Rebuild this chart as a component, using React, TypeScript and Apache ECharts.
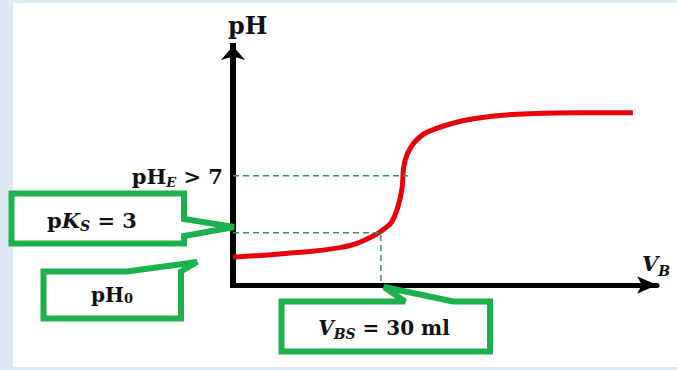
import React, { useEffect, useRef } from "react";
import * as echarts from "echarts";

// Titration curve (schematic): volume of base V_B (ml) vs pH
const vbValues = [0, 5.5, 11.6, 15.6, 18.6, 21.7, 24.1, 25.7, 27.4, 28.8, 29.8, 31.0, 32.2, 33.4, 34.3, 34.6, 35.3, 36.9, 39.5, 46.6, 53.5, 60.2, 70.3, 81.1];
const phValues = [1.61, 1.7, 1.84, 1.93, 2.02, 2.15, 2.3, 2.46, 2.68, 2.88, 3.05, 3.3, 3.63, 4.44, 5.59, 6.74, 7.49, 8.24, 8.81, 9.45, 9.74, 9.85, 9.91, 9.91];

const pKs = 3;
const vbHalf = 30;
const phEq = 6.28;
const vbEq = 35.5;
const xMax = 86;
const yMax = 13.75;

const GREEN = "#1cb14c";
const DASH = "#2f9563";
const SERIF = '"DejaVu Serif", serif';

function rich(size: number, subSize: number, drop: number) {
  const base = { fontFamily: SERIF, fontWeight: "bold", fill: "#111", fontSize: size, lineHeight: size + 4 };
  const sub = { fontFamily: SERIF, fontWeight: "bold", fill: "#111", fontSize: subSize, lineHeight: subSize + 2, padding: [drop * 2, 0, 0, 0] };
  return {
    m: { ...base },
    i: { ...base, fontStyle: "italic" },
    s: { ...sub, fontStyle: "italic" },
    n: { ...sub },
  };
}

function label(text: string, x: number, y: number, align: string, size: number, subSize: number, drop: number) {
  return {
    type: "text",
    z: 120,
    x,
    y,
    style: {
      text,
      rich: rich(size, subSize, drop),
      fontFamily: SERIF,
      fontWeight: "bold",
      fontSize: size,
      fill: "#111",
      align,
      textAlign: align,
      verticalAlign: "middle",
      textVerticalAlign: "middle",
    },
  };
}

function callout(points: number[][]) {
  return {
    type: "polygon",
    z: 110,
    shape: { points },
    style: { fill: "#fff", stroke: GREEN, lineWidth: 6, lineJoin: "miter", miterLimit: 2 },
  };
}

export default function App() {
  const ref = useRef<HTMLDivElement>(null);
  useEffect(() => {
    if (!ref.current) return;
    const chart = echarts.init(ref.current, undefined, { renderer: "svg" });
    const curve = vbValues.map((v, i) => [v, phValues[i]]);
    chart.setOption({
      animation: false,
      backgroundColor: "#ffffff",
      grid: { left: 233, right: 20, top: 46, bottom: 85 },
      xAxis: {
        type: "value",
        min: 0,
        max: xMax,
        axisLine: {
          show: true,
          symbol: ["none", "arrow"],
          symbolSize: [13, 20],
          lineStyle: { color: "#000", width: 5 },
        },
        axisTick: { show: false },
        axisLabel: { show: false },
        splitLine: { show: false },
      },
      yAxis: {
        type: "value",
        min: 0,
        max: yMax,
        axisLine: {
          show: true,
          symbol: ["none", "arrow"],
          symbolSize: [18, 14],
          lineStyle: { color: "#000", width: 6, cap: "square" },
        },
        axisTick: { show: false },
        axisLabel: { show: false },
        splitLine: { show: false },
      },
      series: [
        {
          type: "line",
          data: curve,
          smooth: 0.35,
          showSymbol: false,
          symbol: "none",
          lineStyle: { color: "#e8000b", width: 5 },
          z: 3,
        },
        {
          type: "line",
          data: [[0, phEq], [vbEq, phEq]],
          symbol: "none",
          lineStyle: { color: DASH, width: 1.5, type: [6, 4] },
          z: 4,
        },
        {
          type: "line",
          data: [[0, pKs], [vbHalf, pKs], [vbHalf, 0]],
          symbol: "none",
          lineStyle: { color: DASH, width: 1.5, type: [6, 4] },
          z: 4,
        },
      ],
      graphic: [
        { type: "rect", z: 1, shape: { x: 0, y: 0, width: 13, height: 370 }, style: { fill: "#dde8f5" } },
        { type: "rect", z: 1, shape: { x: 0, y: 0, width: 677, height: 3 }, style: { fill: "#dde8f5" } },
        { type: "rect", z: 1, shape: { x: 0, y: 367, width: 677, height: 3 }, style: { fill: "#dde8f5" } },
        callout([[11.5, 193.5], [184, 193.5], [184, 219], [234, 227], [184, 236], [184, 243.5], [11.5, 243.5]]),
        callout([[43.5, 271.5], [127, 271.5], [197, 262], [181, 271.5], [181, 318.5], [43.5, 318.5]]),
        callout([[281.5, 301.5], [405, 301.5], [384, 287], [453, 301.5], [490, 301.5], [490, 351.5], [281.5, 351.5]]),
        label("{m|pH}", 228, 25, "left", 24, 14, 0),
        label("{i|V}{s|B}", 642, 263, "left", 21, 14, 8),
        label("{m|pH}{s|E}{m| > 7}", 223, 176, "right", 21, 13, 6),
        label("{m|p}{i|K}{s|S}{m| = 3}", 92, 220, "center", 21, 14, 6),
        label("{m|pH}{n|0}", 112, 295, "center", 20, 13, 3),
        label("{i|V}{s|BS}{m| = 30 ml}", 384, 328, "center", 20, 14, 6),
      ],
    });
    return () => chart.dispose();
  }, []);
  return <div ref={ref} style={{ position: "absolute", left: 0, top: 0, width: 677, height: 370 }} />;
}
